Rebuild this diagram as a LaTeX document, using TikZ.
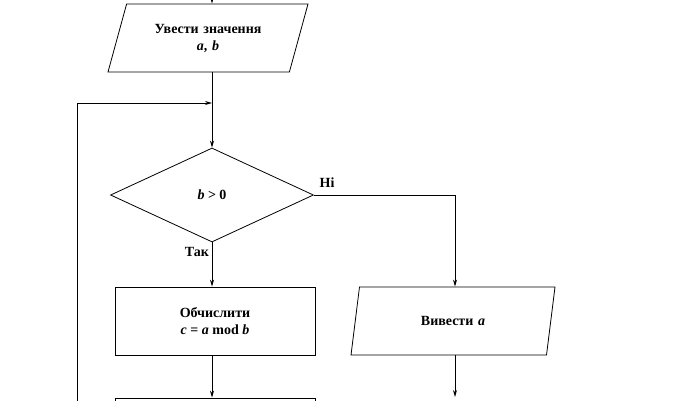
\documentclass[tikz,border=0pt]{standalone}
\usepackage{fontspec}
\setmainfont{Liberation Serif}
\usetikzlibrary{positioning,shapes.geometric,arrows.meta}
\newcommand{\iv}[1]{\textit{#1}}
\begin{document}
\begin{tikzpicture}[x=1pt,y=-1pt,
		font=\fontsize{14}{17}\selectfont\bfseries,
		io/.style={trapezium, trapezium left angle=62, trapezium right angle=118, draw, thick, minimum height=68pt, trapezium stretches body, text width=120pt, align=center},
		block/.style={rectangle, draw, thick, minimum width=200pt, minimum height=68pt, align=center},
		decision/.style={diamond, draw, thick, aspect=2.15, minimum width=203pt, minimum height=94pt},
		line/.style={draw, thick, -{Stealth[length=7pt,width=4pt]}},
		]
		\useasboundingbox (0,0) rectangle (682,400);
		\clip (0,0) rectangle (682,400);
		%Input
		\coordinate (start) at (212,-20);
		\node[io, minimum width=200pt] (input) at (208,38) {Увести значення\\\iv{a}, \iv{b}};
		\draw[line] (start) -- (input.north -| start);

		%Condition
		\node[decision] (cond) at (212,195) {\iv{b} > 0};
		\coordinate (join) at (212,103);
		\draw[thick] (input.south -| join) -- (join);
		\draw[line] (join) -- (cond.north);
		\node (no) at (327,183) {Ні};
		\node (yes) at (197,252) {Так};

		%Compute
		\node[block] (calc) at (215,321) {Обчислити\\\iv{c} = \iv{a} mod \iv{b}};
		\draw[line] (cond.south) -- (calc.north -| cond.south);

		%Output
		\node[io, minimum width=204pt] (output) at (453,321) {Вивести \iv{a}};
		\coordinate (turn) at (455,195);
		\draw[line] (cond.east) -- (turn) -- (output.north -| turn);

		%Next
		\node[block] (next) at (215,432) {};
		\draw[line] (calc.south -| cond.south) -- (next.north -| cond.south);
		\coordinate (out_end) at (455,397);
		\draw[line] (output.south -| out_end) -- (out_end);

		%Loop back
		\coordinate (loop_bot) at (77,410);
		\coordinate (loop_top) at (77,103);
		\draw[line] (loop_bot) -- (loop_top) -- (join);
	\end{tikzpicture}
\end{document}
